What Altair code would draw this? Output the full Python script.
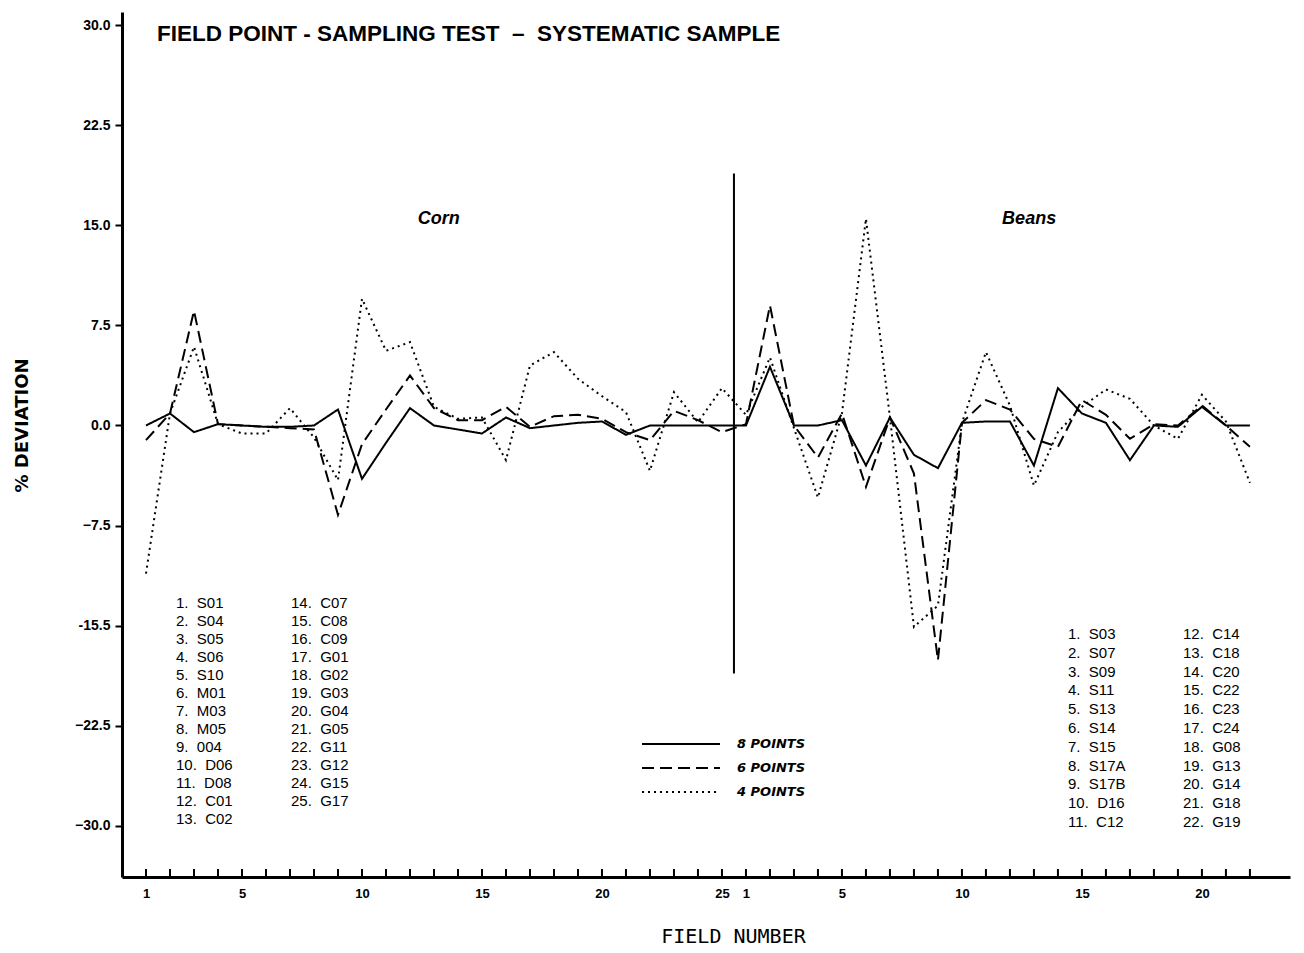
import altair as alt
import pandas as pd

# ---------------- data ----------------
series_names = ["8 POINTS", "6 POINTS", "4 POINTS"]

corn_8 = [0.0, 0.9, -0.5, 0.1, 0.0, -0.1, -0.1, 0.0, 1.2, -4.0, -1.3, 1.3, 0.0,
          -0.3, -0.6, 0.6, -0.2, 0.0, 0.2, 0.3, -0.7, 0.0, 0.0, 0.0, 0.0]
beans_8 = [0.0, 4.4, 0.0, 0.0, 0.4, -3.0, 0.6, -2.2, -3.2, 0.2, 0.3, 0.3, -3.0,
           2.8, 0.9, 0.2, -2.6, 0.0, -0.1, 1.4, 0.0, 0.0]

corn_6 = [-1.1, 0.9, 8.6, 0.1, 0.0, -0.1, -0.2, -0.3, -6.7, -1.4, 1.2, 3.75, 1.3,
          0.4, 0.4, 1.4, -0.1, 0.7, 0.8, 0.5, -0.5, -1.1, 1.1, 0.4, -0.5]
beans_6 = [0.1, 9.0, 0.0, -2.4, 0.9, -4.6, 0.6, -3.6, -17.6, 0.2, 1.9, 1.2, -1.0,
           -1.6, 1.9, 0.8, -1.0, 0.1, 0.0, 1.5, 0.0, -1.6]

corn_4 = [-11.1, 0.9, 5.9, 0.1, -0.6, -0.6, 1.3, -0.9, -4.1, 9.5, 5.6, 6.25, 1.4,
          0.5, 0.6, -2.6, 4.5, 5.5, 3.5, 2.2, 1.0, -3.4, 2.5, 0.25, 2.8]
beans_4 = [0.8, 5.1, -0.2, -5.4, 0.9, 15.5, 0.6, -15.1, -13.5, 0.2, 5.5, 1.5, -4.5,
           -0.5, 1.4, 2.7, 2.0, 0.0, -1.0, 2.3, 0.3, -4.3]

corn_codes = ["S01", "S04", "S05", "S06", "S10", "M01", "M03", "M05", "004", "D06",
              "D08", "C01", "C02", "C07", "C08", "C09", "G01", "G02", "G03", "G04",
              "G05", "G11", "G12", "G15", "G17"]
beans_codes = ["S03", "S07", "S09", "S11", "S13", "S14", "S15", "S17A", "S17B", "D16",
               "C12", "C14", "C18", "C20", "C22", "C23", "C24", "G08", "G13", "G14",
               "G18", "G19"]

y_tick_values = [30.0, 22.5, 15.0, 7.5, 0.0, -7.5, -15.0, -22.5, -30.0]
x_label_values = [1, 5, 10, 15, 20, 25, 26, 30, 35, 40, 45]
x_tick_values = list(range(1, 48))

divider_pos = [25.5]
divider_span = [-18.6, 18.9]

crop_labels = ["Corn", "Beans"]
crop_label_pos = [13.2, 37.8]
crop_label_y = [15.45, 15.45]

NBSP = "\u00a0"
title_text = f"FIELD POINT - SAMPLING TEST {NBSP}\u2013{NBSP} SYSTEMATIC SAMPLE"

# ---------------- frames ----------------
rows = []
for name, corn, beans in zip(series_names, [corn_8, corn_6, corn_4], [beans_8, beans_6, beans_4]):
    vals = corn + beans
    for i, v in enumerate(vals):
        rows.append({"pos": i + 1, "value": v, "series": name})
df = pd.DataFrame(rows)

X_DOMAIN = [0, 48.67]
Y_DOMAIN = [-33.85, 31.0]
W, H = 1168, 865

xscale = alt.Scale(domain=X_DOMAIN, nice=False, zero=False)
yscale = alt.Scale(domain=Y_DOMAIN, nice=False, zero=False)
dash_scale = alt.Scale(domain=series_names, range=[[1, 0], [12, 6], [2, 4]])

lines = alt.Chart(df).mark_line(color="black", strokeWidth=2).encode(
    x=alt.X("pos:Q", scale=xscale,
            axis=alt.Axis(values=x_label_values,
                          labelExpr="datum.value <= 25 ? datum.value : datum.value - 25",
                          ticks=False, tickSize=0, grid=False,
                          domainColor="black", domainWidth=3,
                          labelFont="Liberation Sans", labelFontSize=13, labelFontWeight="bold",
                          labelColor="black", labelPadding=10,
                          title="FIELD NUMBER", titleFont="DejaVu Sans Mono", titleFontSize=20,
                          titleFontWeight="normal", titleColor="black",
                          titleX=611, titleY=59, titleBaseline="middle", titleAlign="center")),
    y=alt.Y("value:Q", scale=yscale,
            axis=alt.Axis(values=y_tick_values,
                          labelExpr="datum.value == -15 ? '-15.5' : format(datum.value, '.1f')",
                          grid=False, domainColor="black", domainWidth=3,
                          tickColor="black", tickWidth=2, tickSize=7,
                          labelFont="Liberation Sans", labelFontSize=14, labelFontWeight="bold",
                          labelColor="black", labelPadding=5,
                          title="% DEVIATION", titleFont="DejaVu Sans", titleFontSize=18,
                          titleFontWeight="bold", titleColor="black",
                          titleX=-100, titleY=413, titleAngle=270, titleBaseline="middle",
                          titleAlign="center")),
    strokeDash=alt.StrokeDash("series:N", scale=dash_scale, legend=None),
    order="pos:Q",
)

# legend drawn as a small key (line sample + label per series)
LEG_X0, LEG_X1, LEG_TX, LEG_Y0, LEG_DY = 520, 598, 615, 732, 24
leg_df = pd.DataFrame({"series": series_names,
                       "ry": [LEG_Y0 + i * LEG_DY for i in range(len(series_names))]})
leg_lines = alt.Chart(leg_df).mark_rule(color="black", strokeWidth=2).encode(
    x=alt.value(LEG_X0), x2=alt.value(LEG_X1),
    y=alt.Y("ry:Q", scale=None),
    strokeDash=alt.StrokeDash("series:N", scale=dash_scale, legend=None))
leg_text = alt.Chart(leg_df).mark_text(
    font="DejaVu Sans", fontSize=13, fontWeight="bold", fontStyle="italic", color="black",
    align="left", baseline="middle").encode(
    x=alt.value(LEG_TX), y=alt.Y("ry:Q", scale=None), text="series:N")

tick_df = pd.DataFrame({"pos": x_tick_values})
tick_df["y0"] = Y_DOMAIN[0]
tick_df["y1"] = Y_DOMAIN[0] + 0.6
xticks = alt.Chart(tick_df).mark_rule(color="black", strokeWidth=2).encode(
    x=alt.X("pos:Q", scale=xscale), y=alt.Y("y0:Q", scale=yscale), y2="y1:Q")

div_df = pd.DataFrame({"pos": divider_pos, "y0": [divider_span[0]], "y1": [divider_span[1]]})
divider = alt.Chart(div_df).mark_rule(color="black", strokeWidth=2).encode(
    x=alt.X("pos:Q", scale=xscale), y=alt.Y("y0:Q", scale=yscale), y2="y1:Q")

crop_df = pd.DataFrame({"label": crop_labels, "pos": crop_label_pos, "y": crop_label_y})
crops = alt.Chart(crop_df).mark_text(font="Liberation Sans", fontSize=18, fontWeight="bold",
                                      fontStyle="italic", color="black").encode(
    x=alt.X("pos:Q", scale=xscale), y=alt.Y("y:Q", scale=yscale), text="label:N")

title = alt.Chart(pd.DataFrame({"t": [title_text]})).mark_text(
    font="Liberation Sans", fontSize=22.5, fontWeight="bold", color="black",
    align="left", baseline="middle").encode(x=alt.value(35), y=alt.value(22), text="t:N")


def key_block(codes, start, x, y, line_h):
    txt = "\n".join(f"{start + i}.{NBSP} {c}" for i, c in enumerate(codes))
    return alt.Chart(pd.DataFrame({"t": [txt]})).mark_text(
        font="Liberation Sans", fontSize=15, color="black", align="left", baseline="top",
        lineBreak="\n", lineHeight=line_h).encode(
        x=alt.value(x), y=alt.value(y), text="t:N")


keys = [
    key_block(corn_codes[:13], 1, 54, 584, 18),
    key_block(corn_codes[13:], 14, 169, 584, 18),
    key_block(beans_codes[:11], 1, 946, 615, 18.8),
    key_block(beans_codes[11:], 12, 1061, 615, 18.8),
]

chart = alt.layer(lines, xticks, divider, crops, title, leg_lines, leg_text, *keys).properties(
    width=W, height=H,
    padding={"left": 122, "top": 12, "right": 14, "bottom": 76},
    autosize=alt.AutoSizeParams(type="none"),
    background="white",
).configure_view(stroke=None)

chart.save("out.html", embed_options={"renderer": "svg", "actions": False})
